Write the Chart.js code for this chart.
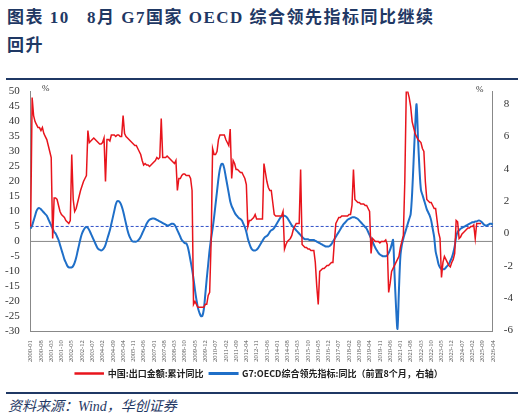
<!DOCTYPE html>
<html>
<head>
<meta charset="utf-8">
<script src="https://cdn.jsdelivr.net/npm/chart.js@4"></script>
<style>
  body { margin: 0; width: 524px; height: 419px; background: #fff; position: relative; overflow: hidden; font-family: "Noto Sans CJK SC", sans-serif; }
  #title { position: absolute; left: 7px; top: 4px; width: 515px; color: #1f3864; font-weight: bold; font-size: 17px; letter-spacing: 1.5px; line-height: 28px; font-family: "Liberation Serif", "Noto Sans CJK SC", serif; }
  .rule { position: absolute; left: 6px; width: 512px; height: 2px; background: #1f3864; }
  #wrap { position: absolute; left: 0; top: 82px; width: 524px; height: 306px; }
  #src { position: absolute; left: 8px; top: 395px; color: #1f3864; font-style: italic; font-size: 14px; font-family: "Liberation Serif", "Noto Sans CJK SC", serif; }
  .pct { position: absolute; font-size: 9px; color: #333; font-family: "Liberation Serif", serif; }
</style>
</head>
<body>
<div id="title">图表 10&nbsp;&nbsp;&nbsp;8月 G7国家 OECD 综合领先指标同比继续<br>回升</div>
<div class="rule" style="top:78px"></div>
<div id="wrap"><canvas id="c"></canvas></div>
<div class="pct" style="left:42px;top:83px">%</div>
<div class="pct" style="left:476px;top:84px">%</div>
<div class="rule" style="top:392px"></div>
<div id="src">资料来源：Wind，华创证券</div>
<script>
// 月份：2000-01 至 2026-04
const months = [];
for (let y = 2000; y <= 2026; y++) {
  for (let m = 1; m <= 12; m++) {
    if (y === 2026 && m > 4) break;
    months.push(y + "-" + String(m).padStart(2, "0"));
  }
}

// 中国:出口金额:累计同比 (%), 2000-01 至 2025-08
const exportYoY = [
  5, 48, 42, 40, 39, 38, 38, 37, 38, 36, 35, 34,
  32, 30, 28, 1, 14.5, 14.5, 14, 12, 10, 9, 8.5, 8,
  7, 6.5, 6, 7, 29, 14, 10, 11, 13, 15, 17, 18.5,
  20, 21, 22, 37, 33, 33.5, 34, 34.5, 34, 33.5, 33, 32.5,
  32.5, 33, 34.5, 20, 34, 34, 33.5, 35.5, 35.5, 35.5, 35, 35.5,
  35.5, 35, 35, 42, 36, 35, 34.5, 34, 33.5, 33, 32.5, 32,
  32, 31, 30, 29, 27, 25.5, 26, 25.5, 25.5, 25, 25.5, 26,
  26.5, 27, 28, 27.5, 28, 41, 28, 28, 28, 28.5, 28, 27.5,
  27, 26.5, 26, 27, 17, 21, 21, 22, 22.5, 22.5, 22, 22,
  22, 21, 17, -21, -20, -21, -22, -22, -22, -22, -22, -21,
  -21, -18, -17, 0, 31, 29, 29, 30, 34, 35.5, 35.5, 35.5,
  35.5, 34, 33, 32, 37.5, 21, 27, 26, 24, 24, 23.5, 23,
  23, 22, 21, 19, 5, 7, 7, 7.5, 8, 9, 7.5, 7.5,
  7.5, 7.5, 7.5, 26, 23, 20, 18, 17, 17, 13, 9, 8.5,
  8.5, 8.5, 8.5, 8.5, 10, -2.5, -1, 0, 0.5, 1, 2, 4,
  5, 6, 6, 6, 24, -1, -1.5, -2, -2, -2.5, -2.5, -3,
  -3, -3, -7, -15, -21, -10, -9.5, -9, -9, -8.5, -8, -8,
  -7.5, -7, -7, 0, 6, 7, 8, 8, 8.5, 8.5, 8.5, 8.5,
  8.5, 9, 9, 12, 24, 14, 13.5, 13, 13, 12.5, 12.5, 12.5,
  12, 12, 11, 10, -4, 1, 0.5, 0, 0, 0, -0.5, 0,
  0, 0, 0.5, -1, -17, -14, -10, -9, -8, -7, -6, -5,
  -2, 0, 2, 20, 50, 50, 48, 45, 40, 38, 36, 35,
  34, 33.5, 33, 31, 30, 20, 14, 13.5, 13, 13, 12, 11,
  11, 7, 3, 1, -12, -7, -5, -6, -7, -8, -8.5, -7,
  -6, -4, 7, 6.5, 1, 1.5, 2.5, 3, 3.5, 4, 4.5, 4.5,
  5, 5, 5.5, 1, 6, 6, 6, 6
];

// G7:OECD综合领先指标:同比 (前置8个月, 右轴), 2000-01 至 2026-04
const oecdYoY = [
  0.3, 0.5, 0.8, 1.1, 1.4, 1.55, 1.57, 1.5, 1.4, 1.3, 1.2, 1.1,
  0.9, 0.7, 0.5, 0.3, 0.1, 0, -0.2, -0.4, -0.7, -1, -1.3, -1.6,
  -1.8, -2.0, -2.1, -2.1, -2.1, -2.0, -1.8, -1.5, -1.1, -0.7, -0.3, 0,
  0.2, 0.35, 0.4, 0.35, 0.2, 0, -0.2, -0.4, -0.6, -0.8, -0.95, -1.0,
  -1.05, -1.0, -0.9, -0.7, -0.4, -0.1, 0.2, 0.6, 1.0, 1.4, 1.8, 2.0,
  2.0, 1.9, 1.7, 1.4, 1.0, 0.6, 0.2, -0.1, -0.3, -0.45, -0.5, -0.5,
  -0.5, -0.45, -0.35, -0.2, 0, 0.2, 0.4, 0.6, 0.75, 0.85, 0.9, 0.93,
  0.93, 0.9, 0.85, 0.8, 0.75, 0.7, 0.65, 0.6, 0.55, 0.5, 0.5, 0.55,
  0.6, 0.6, 0.55, 0.4, 0.2, 0, -0.2, -0.4, -0.5, -0.6, -0.6, -0.8,
  -1.2, -1.7, -2.2, -2.8, -3.5, -4.1, -4.6, -4.9, -5.1, -5.1, -4.7, -3.8,
  -2.8, -1.9, -1.0, -0.3, 0.3, 1.0, 1.8, 2.6, 3.4, 4.0, 4.3, 4.3,
  4.0, 3.5, 3.0, 2.5, 2.0, 1.7, 1.5, 1.3, 1.15, 1.05, 0.95, 0.9,
  0.8, 0.6, 0.4, 0.1, -0.3, -0.6, -0.85, -1.0, -1.05, -1.05, -1.0, -0.9,
  -0.75, -0.6, -0.45, -0.3, -0.2, -0.15, -0.05, 0.1, 0.2, 0.25, 0.35, 0.5,
  0.65, 0.8, 0.95, 1.05, 1.1, 1.1, 1.05, 0.95, 0.8, 0.65, 0.5, 0.4,
  0.3, 0.2, 0.1, 0, -0.1, -0.2, -0.3, -0.35, -0.35, -0.35, -0.4, -0.4,
  -0.4, -0.4, -0.45, -0.5, -0.55, -0.6, -0.65, -0.7, -0.75, -0.8, -0.8, -0.8,
  -0.75, -0.65, -0.5, -0.35, -0.2, -0.05, 0.1, 0.25, 0.4, 0.55, 0.65, 0.75,
  0.85, 0.9, 0.95, 1.0, 1.0, 1.0, 0.95, 0.9, 0.8, 0.7, 0.6, 0.5,
  0.4, 0.3, 0.1, -0.1, -0.3, -0.5, -0.7, -0.9, -1.05, -1.2, -1.3, -1.35,
  -1.4, -1.4, -1.4, -1.35, -1.2, -1.0, -0.7, -0.4, -2.5, -4.5, -5.9, -3.5,
  -1.4, -0.7, -0.3, 0, 0.3, 0.6, 0.9, 1.2, 2.5, 4.5, 6.5, 8.0,
  5.9, 4.0, 2.7, 2.4, 2.1, 1.8, 1.5, 1.3, 1.1, 0.8, 0.3, -0.2,
  -1.1, -1.5, -1.9, -2.1, -2.2, -2.2, -2.2, -2.1, -2.0, -1.9, -1.7, -1.5,
  -1.2, -0.8, -0.2, 0.1, 0.2, 0.3, 0.35, 0.4, 0.45, 0.5, 0.55, 0.6,
  0.65, 0.7, 0.7, 0.75, 0.75, 0.8, 0.8, 0.75, 0.65, 0.55, 0.5, 0.5,
  0.55, 0.6, 0.6, 0.55
];

const leftTicks = [-30, -25, -20, -15, -10, -5, 0, 5, 10, 15, 20, 25, 30, 35, 40, 45, 50];
const rightTicks = [-6, -4, -2, 0, 2, 4, 6, 8];
const refLine = 5;
const labelStep = 7;

const tickFont = { family: "Liberation Serif", size: 11 };

const refLinePlugin = {
  id: "refLine",
  beforeDatasetsDraw(chart) {
    const { ctx, chartArea, scales } = chart;
    const y = scales.y.getPixelForValue(refLine);
    ctx.save();
    ctx.strokeStyle = "#3050c8";
    ctx.lineWidth = 1;
    ctx.setLineDash([3, 2]);
    ctx.beginPath();
    ctx.moveTo(chartArea.left, y);
    ctx.lineTo(chartArea.right, y);
    ctx.stroke();
    // 左轴零线
    const y0 = scales.y.getPixelForValue(0);
    ctx.setLineDash([]);
    ctx.strokeStyle = "#888";
    ctx.beginPath();
    ctx.moveTo(chartArea.left, y0);
    ctx.lineTo(chartArea.right, y0);
    ctx.stroke();
    ctx.restore();
  }
};

new Chart(document.getElementById("c"), {
  type: "line",
  data: {
    labels: months,
    datasets: [
      {
        label: "中国:出口金额:累计同比",
        data: exportYoY,
        borderColor: "#e8141c",
        backgroundColor: "#e8141c",
        borderWidth: 1.5,
        pointRadius: 0,
        tension: 0,
        yAxisID: "y"
      },
      {
        label: "G7:OECD综合领先指标:同比（前置8个月，右轴）",
        data: oecdYoY,
        borderColor: "#1f6fc8",
        backgroundColor: "#1f6fc8",
        borderWidth: 2,
        pointRadius: 0,
        tension: 0.3,
        yAxisID: "y1"
      }
    ]
  },
  options: {
    responsive: true,
    maintainAspectRatio: false,
    animation: false,
    layout: { padding: { left: 2, right: 8, top: 6, bottom: 0 } },
    plugins: {
      legend: {
        position: "bottom",
        labels: {
          boxWidth: 28,
          boxHeight: 1,
          padding: 6,
          color: "#222",
          font: { family: "Noto Sans CJK SC", size: 9, weight: "bold" }
        }
      },
      tooltip: { enabled: false }
    },
    scales: {
      x: {
        grid: { display: false },
        border: { color: "#888" },
        ticks: {
          autoSkip: false,
          maxRotation: 90,
          minRotation: 90,
          color: "#555",
          font: { family: "Liberation Serif", size: 6.5 },
          padding: 1,
          callback: (v, i) => (i % labelStep === 0 ? months[i] : null)
        }
      },
      y: {
        position: "left",
        min: -30,
        max: 50,
        grid: { display: false },
        border: { color: "#888" },
        afterBuildTicks: s => { s.ticks = leftTicks.map(v => ({ value: v })); },
        ticks: { autoSkip: false, color: "#333", font: tickFont, padding: 3 }
      },
      y1: {
        position: "right",
        min: -6.05,
        max: 8.78,
        grid: { display: false },
        border: { color: "#888" },
        afterBuildTicks: s => { s.ticks = rightTicks.map(v => ({ value: v })); },
        ticks: { autoSkip: false, color: "#333", font: tickFont, padding: 3 }
      }
    }
  },
  plugins: [refLinePlugin]
});
</script>
</body>
</html>
